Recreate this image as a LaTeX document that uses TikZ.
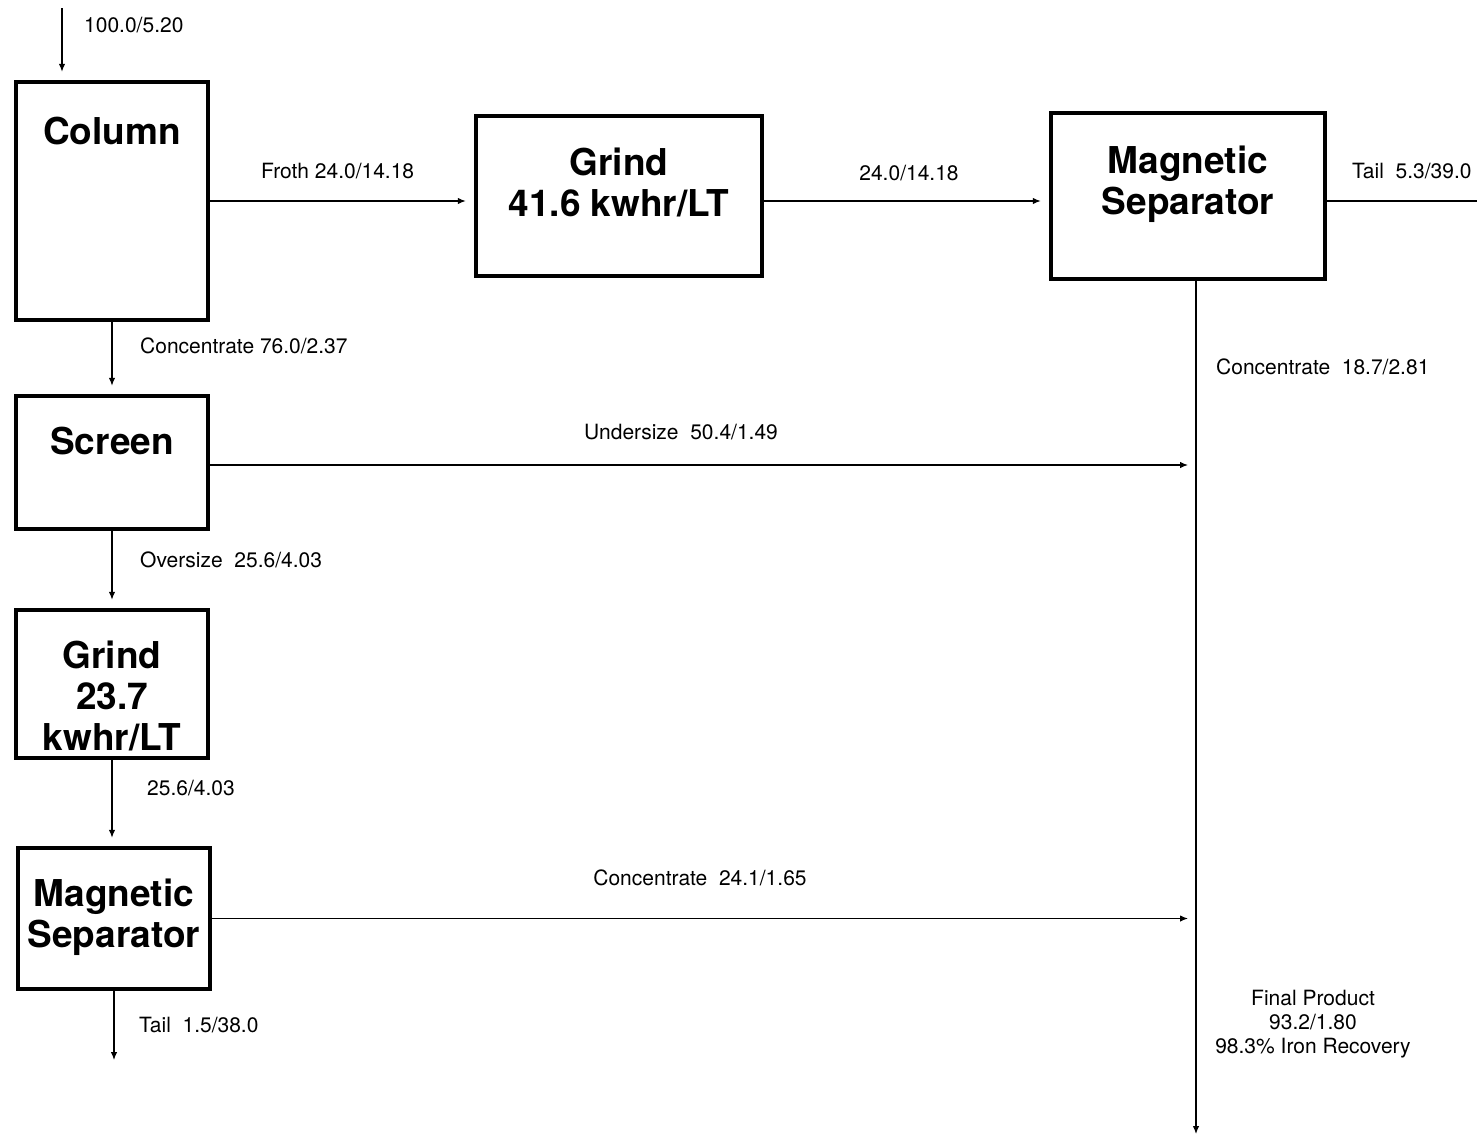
\documentclass[tikz,border=0pt]{standalone}
\usepackage{fontspec}
\setmainfont{TeX Gyre Heros}
\usetikzlibrary{arrows.meta}

\begin{document}
\begin{tikzpicture}[x=1pt, y=-1pt,
  box/.style={draw, line width=4.5pt, inner sep=0pt},
  boxtext/.style={font=\fontsize{37}{41}\selectfont\bfseries, align=center, inner sep=0pt},
  lbl/.style={font=\fontsize{21}{24}\selectfont, inner sep=0pt, anchor=west, text height=15pt, text depth=0pt},
  flow/.style={line width=1.2pt, -{Latex[length=8pt,width=6.5pt]}, shorten >=8pt}]
  \useasboundingbox (0,0) rectangle (1477,1135);
  % boxes
  \node[box, minimum width=192pt, minimum height=238pt] (column) at (112,201) {};
  \node[box, minimum width=286pt, minimum height=160pt] (grindR) at (619,196) {};
  \node[box, minimum width=274pt, minimum height=166pt] (magsepR) at (1188,196) {};
  \node[box, minimum width=192pt, minimum height=133pt] (screen) at (112,462.5) {};
  \node[box, minimum width=192pt, minimum height=148pt] (grindL) at (112,684) {};
  \node[box, minimum width=192pt, minimum height=141pt] (magsepL) at (114,918.5) {};
  \node[boxtext] (column-t) at (112,131) {Column};
  \node[boxtext] (grindR-t) at (619,182) {Grind\\41.6 kwhr/LT};
  \node[boxtext] (magsepR-t) at (1188,184) {Magnetic\\Separator};
  \node[boxtext] (screen-t) at (112,441) {Screen};
  \node[boxtext] (grindL-t) at (112,696) {Grind\\23.7\\kwhr/LT};
  \node[boxtext] (magsepL-t) at (114,917) {Magnetic\\Separator};
  % streams
  \coordinate (feed) at (62,8);
  \coordinate (tailR) at (1477,201);
  \coordinate (prod) at (1196,1134);
  \coordinate (tailL) at (114,1060);
  \draw[flow] (feed) -- (feed |- column.north);
  \draw[flow] (column.east) -- (column.east -| grindR.west);
  \draw[flow] (column.east -| grindR.east) -- (column.east -| magsepR.west);
  \draw[line width=1.2pt] (column.east -| magsepR.east) -- (tailR);
  \draw[flow, shorten >=0pt] (prod |- magsepR.south) -- (prod);
  \draw[flow] (column.south) -- (screen.north);
  \draw[flow] ([yshift=-2.5pt]screen.east) -- ([yshift=-2.5pt]screen.east -| prod);
  \draw[flow] (screen.south) -- (grindL.north);
  \draw[flow] (grindL.south) -- (grindL.south |- magsepL.north);
  \draw[flow] (magsepL.east) -- (magsepL.east -| prod);
  \draw[flow, shorten >=0pt] (magsepL.south) -- (tailL);
  % labels
  \node[lbl] (feed-l) at (84,25) {100.0/5.20};
  \node[lbl] (froth-l) at (261,171) {Froth 24.0/14.18};
  \node[lbl, anchor=center] (grindR-l) at (909,173) {24.0/14.18};
  \node[lbl] (tailR-l) at (1352,171) {Tail\ \ 5.3/39.0};
  \node[lbl] (conc1-l) at (140,346) {Concentrate 76.0/2.37};
  \node[lbl] (conc2-l) at (1216,367) {Concentrate\ \ 18.7/2.81};
  \node[lbl, anchor=center] (under-l) at (681,432) {Undersize\ \ 50.4/1.49};
  \node[lbl] (over-l) at (140,560) {Oversize\ \ 25.6/4.03};
  \node[lbl] (grindL-l) at (147,788) {25.6/4.03};
  \node[lbl, anchor=center] (conc3-l) at (700,878) {Concentrate\ \ 24.1/1.65};
  \node[lbl] (tailL-l) at (139,1025) {Tail\ \ 1.5/38.0};
  \node[lbl, align=center, anchor=center, text height=, text depth=] (prod-l) at (1313,1024)
    {Final Product\\93.2/1.80\\98.3\% Iron Recovery};
\end{tikzpicture}
\end{document}
